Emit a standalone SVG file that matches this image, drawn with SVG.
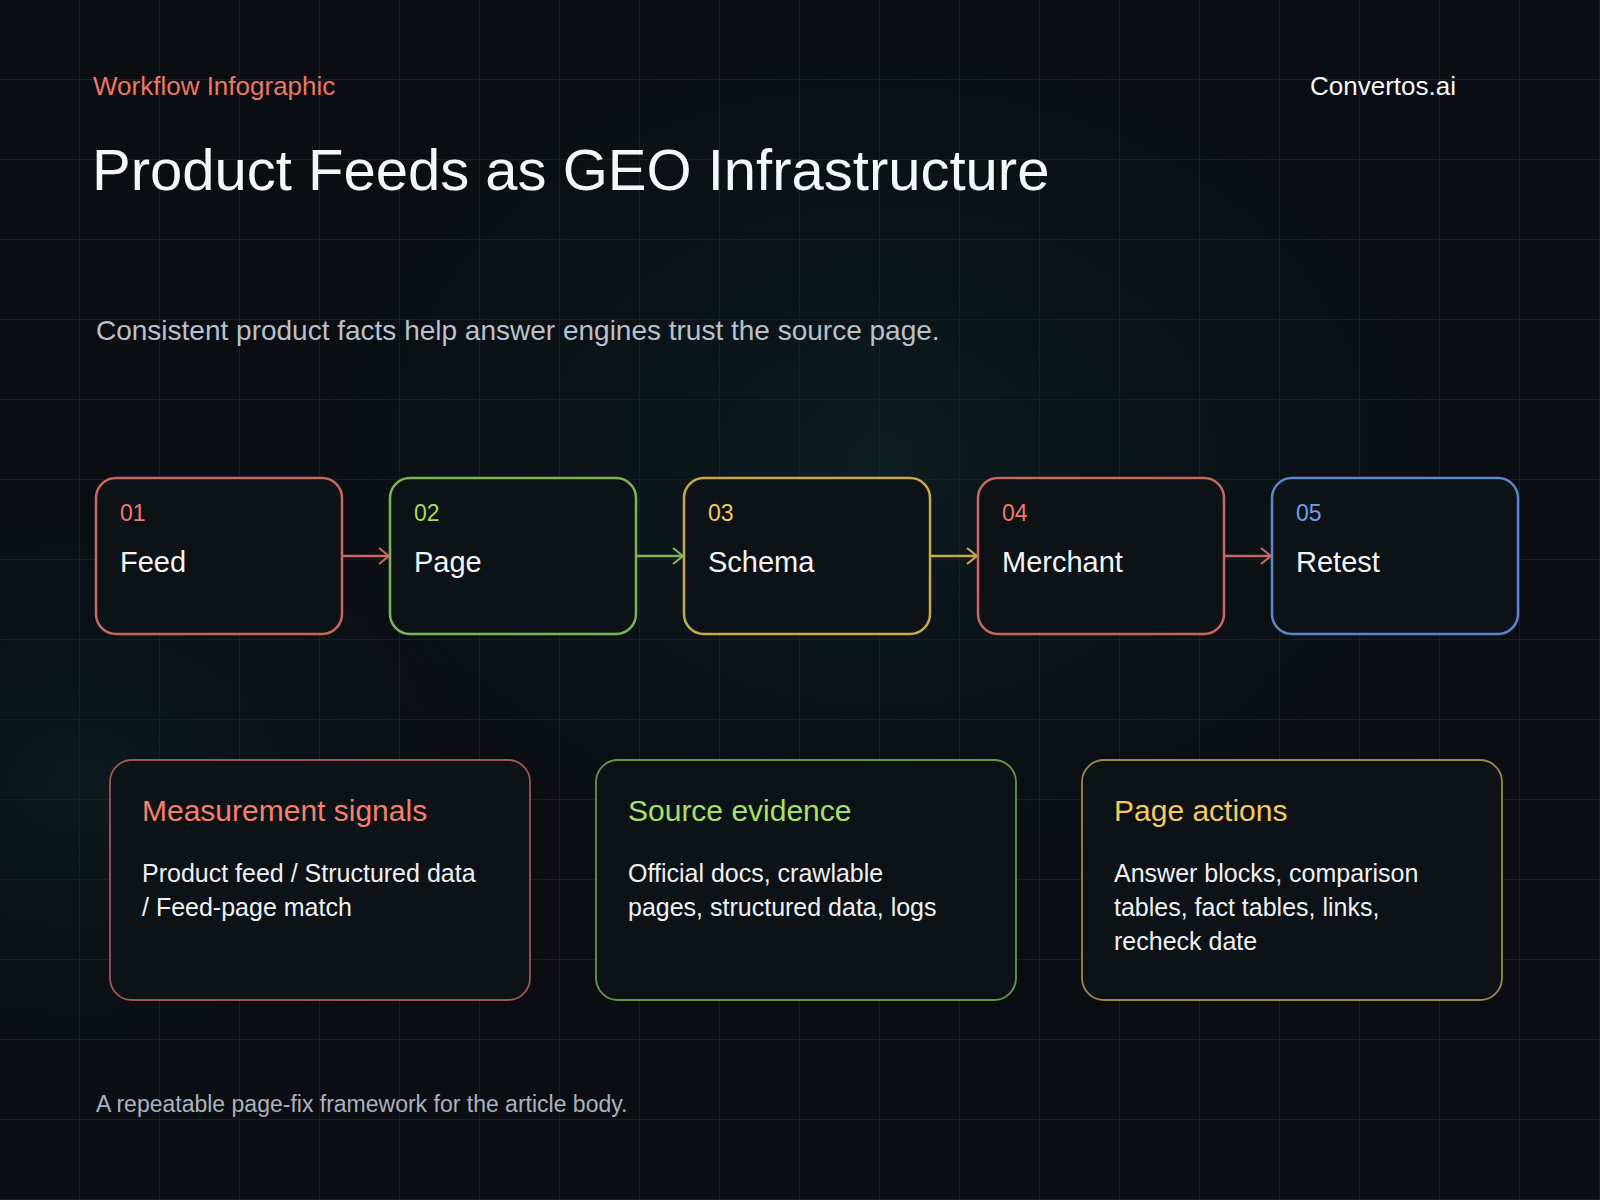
<svg xmlns="http://www.w3.org/2000/svg" width="1600" height="1200" viewBox="0 0 1600 1200">
  <defs>
    <pattern id="grid" width="80" height="80" patternUnits="userSpaceOnUse">
      <path d="M80 0 V80 M0 80 H80" fill="none" stroke="#1c232b" stroke-width="1.5"/>
    </pattern>
    <radialGradient id="glow1" cx="0.55" cy="0.38" r="0.45">
      <stop offset="0" stop-color="#123030" stop-opacity="0.45"/>
      <stop offset="1" stop-color="#0a0e13" stop-opacity="0"/>
    </radialGradient>
    <radialGradient id="glow2" cx="0.05" cy="0.65" r="0.3">
      <stop offset="0" stop-color="#123236" stop-opacity="0.35"/>
      <stop offset="1" stop-color="#0a0e13" stop-opacity="0"/>
    </radialGradient>
    <marker id="ar-red" viewBox="0 0 12 18" refX="11" refY="9" markerWidth="12" markerHeight="18" markerUnits="userSpaceOnUse" orient="auto">
      <path d="M1 1 L11 9 L1 17" fill="none" stroke="#c9685c" stroke-width="2.2"/>
    </marker>
    <marker id="ar-green" viewBox="0 0 12 18" refX="11" refY="9" markerWidth="12" markerHeight="18" markerUnits="userSpaceOnUse" orient="auto">
      <path d="M1 1 L11 9 L1 17" fill="none" stroke="#7fb35a" stroke-width="2.2"/>
    </marker>
    <marker id="ar-gold" viewBox="0 0 12 18" refX="11" refY="9" markerWidth="12" markerHeight="18" markerUnits="userSpaceOnUse" orient="auto">
      <path d="M1 1 L11 9 L1 17" fill="none" stroke="#c9a84e" stroke-width="2.2"/>
    </marker>
  </defs>
  <style>
    .sans { font-family: "Liberation Sans", Arial, sans-serif; }
    .step { fill: #0d1217; stroke-width: 2.5; }
    .card { fill: #0d1217; stroke-width: 1.8; }
    .num { font-size: 23px; }
    .lbl { font-size: 29px; fill: #f3f5f7; }
    .ctitle { font-size: 30px; }
    .body { font-size: 25px; fill: #eef1f4; }
    .conn { fill: none; stroke-width: 2.5; }
  </style>

  <rect width="1600" height="1200" fill="#0a0e13"/>
  <rect width="1600" height="1200" fill="url(#glow1)"/>
  <rect width="1600" height="1200" fill="url(#glow2)"/>
  <rect width="1600" height="1200" fill="url(#grid)"/>

  <text class="sans" x="93" y="95" font-size="26" fill="#ec7763">Workflow Infographic</text>
  <text class="sans" x="1310" y="95" font-size="26" fill="#f5f7fa">Convertos.ai</text>
  <text class="sans" x="92" y="190" font-size="58" fill="#f5f8fb">Product Feeds as GEO Infrastructure</text>
  <text class="sans" x="96" y="340" font-size="28" fill="#b9c1cb">Consistent product facts help answer engines trust the source page.</text>

  <g id="connectors">
    <line class="conn" x1="342" y1="556" x2="389" y2="556" stroke="#c9685c" marker-end="url(#ar-red)"/>
    <line class="conn" x1="636" y1="556" x2="683" y2="556" stroke="#7fb35a" marker-end="url(#ar-green)"/>
    <line class="conn" x1="930" y1="556" x2="977" y2="556" stroke="#c9a84e" marker-end="url(#ar-gold)"/>
    <line class="conn" x1="1224" y1="556" x2="1271" y2="556" stroke="#c9685c" marker-end="url(#ar-red)"/>
  </g>

  <g id="step-01">
    <rect class="step" x="96" y="478" width="246" height="156" rx="20" stroke="#c9685c"/>
    <text class="sans num" x="120" y="521" fill="#f07a66">01</text>
    <text class="sans lbl" x="120" y="572">Feed</text>
  </g>
  <g id="step-02">
    <rect class="step" x="390" y="478" width="246" height="156" rx="20" stroke="#7fb35a"/>
    <text class="sans num" x="414" y="521" fill="#a6df5c">02</text>
    <text class="sans lbl" x="414" y="572">Page</text>
  </g>
  <g id="step-03">
    <rect class="step" x="684" y="478" width="246" height="156" rx="20" stroke="#c9a84e"/>
    <text class="sans num" x="708" y="521" fill="#f4c95c">03</text>
    <text class="sans lbl" x="708" y="572">Schema</text>
  </g>
  <g id="step-04">
    <rect class="step" x="978" y="478" width="246" height="156" rx="20" stroke="#c9685c"/>
    <text class="sans num" x="1002" y="521" fill="#f07a66">04</text>
    <text class="sans lbl" x="1002" y="572">Merchant</text>
  </g>
  <g id="step-05">
    <rect class="step" x="1272" y="478" width="246" height="156" rx="20" stroke="#5b86c9"/>
    <text class="sans num" x="1296" y="521" fill="#6e9fe8">05</text>
    <text class="sans lbl" x="1296" y="572">Retest</text>
  </g>

  <g id="card-measurement">
    <rect class="card" x="110" y="760" width="420" height="240" rx="22" stroke="#9c5850"/>
    <text class="sans ctitle" x="142" y="821" fill="#f4806c">Measurement signals</text>
    <text class="sans body" x="142" y="882">Product feed / Structured data</text>
    <text class="sans body" x="142" y="916">/ Feed-page match</text>
  </g>
  <g id="card-evidence">
    <rect class="card" x="596" y="760" width="420" height="240" rx="22" stroke="#6a9445"/>
    <text class="sans ctitle" x="628" y="821" fill="#a8e068">Source evidence</text>
    <text class="sans body" x="628" y="882">Official docs, crawlable</text>
    <text class="sans body" x="628" y="916">pages, structured data, logs</text>
  </g>
  <g id="card-actions">
    <rect class="card" x="1082" y="760" width="420" height="240" rx="22" stroke="#9c8648"/>
    <text class="sans ctitle" x="1114" y="821" fill="#f6c862">Page actions</text>
    <text class="sans body" x="1114" y="882">Answer blocks, comparison</text>
    <text class="sans body" x="1114" y="916">tables, fact tables, links,</text>
    <text class="sans body" x="1114" y="950">recheck date</text>
  </g>

  <text class="sans" x="96" y="1112" font-size="23" fill="#aab2bd">A repeatable page-fix framework for the article body.</text>
</svg>
